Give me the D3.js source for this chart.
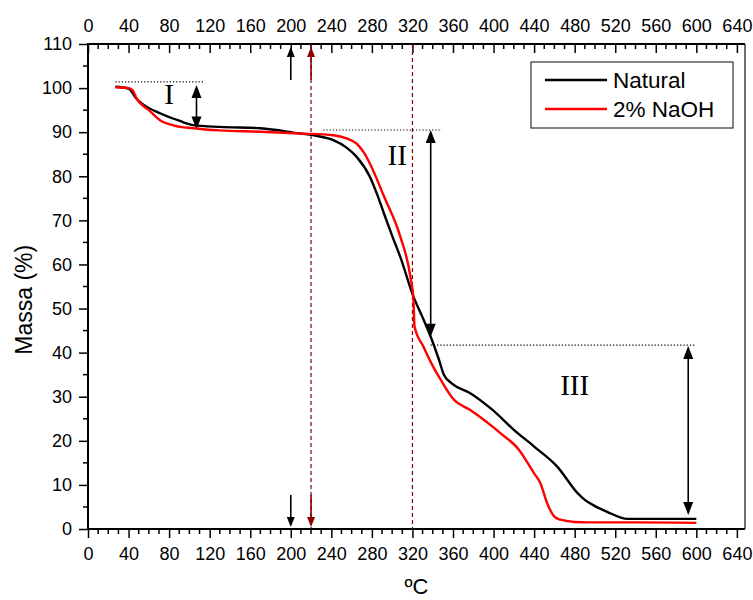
<!DOCTYPE html>
<html>
<head>
<meta charset="utf-8">
<script src="https://cdn.jsdelivr.net/npm/d3@7"></script>
<style>
  body { margin: 0; background: #fff; }
  svg { display: block; }
  text { font-family: "Liberation Sans", Arial, sans-serif; fill: #000; }
  .roman { font-family: "Liberation Serif", "Times New Roman", serif; }
</style>
</head>
<body>
<div id="chart"></div>
<script>
// TGA curves: temperature (ºC) vs mass (%)
const tempNatural = [27, 40, 43, 47, 55, 71, 90, 104, 130, 170, 209, 225, 242, 255, 265, 278, 285, 292, 300, 308, 321, 330, 338, 346, 351, 360, 377, 399, 420, 440, 463, 483, 490, 500, 512, 532, 560, 600];
const massNatural = [100.3, 99.9, 99.2, 97.8, 96.2, 94.3, 92.6, 91.6, 91.2, 90.9, 89.7, 89.2, 88.2, 86.5, 84.4, 79.9, 76, 71.5, 66.5, 61.7, 52.7, 48, 43.6, 38.5, 35, 32.8, 30.8, 27, 22.5, 18.7, 14.1, 8.1, 6.6, 5.2, 3.9, 2.3, 2.3, 2.3];

const tempNaOH = [27, 40, 44, 48, 60, 71, 85, 104, 130, 170, 209, 242, 255, 265, 272, 278, 292, 308, 318, 321, 322, 331, 340, 348, 361, 377, 407, 425, 440, 446, 453, 460, 466, 473, 480, 495, 540, 600];
const massNaOH = [100.2, 100, 99.5, 97.6, 95, 92.7, 91.5, 90.9, 90.4, 90.1, 89.7, 89.3, 88.6, 87.4, 85.4, 82.9, 75.4, 66.3, 57.2, 52, 46, 41.3, 37, 33.8, 29.3, 27, 21.7, 18, 12.6, 10.5, 5.8, 2.8, 2.1, 1.8, 1.6, 1.5, 1.5, 1.4];

const seriesNames = ["Natural", "2% NaOH"];
const seriesColors = ["#000000", "#ff0000"];

const xTicks = d3.range(0, 641, 40);
const yTicks = d3.range(0, 111, 10);

// annotations (data space)
const stageLevels = [101.4, 90.5, 41.7];          // dotted reference levels
const stageLevelX = [[27, 114], [232, 349], [338, 600]];
const stageArrowX = [107, 338, 592];
const stageArrowY = [[100.7, 90.6], [90.5, 43.6], [41.5, 3.2]];
const stageLabels = ["I", "II", "III"];
const stageLabelPos = [[80, 96.5], [305, 82.5], [480, 30.5]];
const onsetTemps = [200, 220];
const onsetColors = ["#000000", "#8b0000"];
const dashedTemps = [220, 320];

const width = 753, height = 600;
const mLeft = 88, mRight = 745, mTop = 44, mBottom = 529;

const svg = d3.select("#chart").append("svg")
    .attr("width", width)
    .attr("height", height);

const x = d3.scaleLinear().domain([0, 648]).range([mLeft, mRight]);
const y = d3.scaleLinear().domain([0, 110]).range([mBottom, mTop]);

// axes
const bottomAxis = svg.append("g")
    .attr("transform", `translate(0,${mBottom})`)
    .call(d3.axisBottom(x).tickValues(xTicks).tickSizeInner(9).tickSizeOuter(0).tickPadding(9));
const topAxis = svg.append("g")
    .attr("transform", `translate(0,${mTop})`)
    .call(d3.axisTop(x).tickValues(xTicks).tickSizeInner(-9).tickSizeOuter(0).tickPadding(12));
const leftAxis = svg.append("g")
    .attr("transform", `translate(${mLeft},0)`)
    .call(d3.axisLeft(y).tickValues(yTicks).tickSizeInner(9).tickSizeOuter(0).tickPadding(7));

[bottomAxis, topAxis, leftAxis].forEach(g => {
    g.selectAll("text").style("font-size", "18px").attr("fill", "#000")
        .style("font-family", "\"Liberation Sans\", Arial, sans-serif");
    g.selectAll("line").attr("stroke", "#000").attr("stroke-width", 1.5);
    g.select(".domain").remove();
});

// minor ticks
const xMinor = d3.range(0, 641, 10).filter(v => v % 40 !== 0);
svg.append("g").selectAll("line").data(xMinor).join("line")
    .attr("x1", d => x(d)).attr("x2", d => x(d))
    .attr("y1", mBottom).attr("y2", mBottom + 5)
    .attr("stroke", "#000").attr("stroke-width", 1.5);
svg.append("g").selectAll("line").data(xMinor).join("line")
    .attr("x1", d => x(d)).attr("x2", d => x(d))
    .attr("y1", mTop).attr("y2", mTop + 5)
    .attr("stroke", "#000").attr("stroke-width", 1.5);
const yMinor = d3.range(5, 110, 10);
svg.append("g").selectAll("line").data(yMinor).join("line")
    .attr("x1", mLeft - 5).attr("x2", mLeft)
    .attr("y1", d => y(d)).attr("y2", d => y(d))
    .attr("stroke", "#000").attr("stroke-width", 1.5);

// frame
svg.append("line").attr("x1", mLeft).attr("x2", mLeft).attr("y1", mTop - 1).attr("y2", mBottom + 1)
    .attr("stroke", "#000").attr("stroke-width", 2);
svg.append("line").attr("x1", mLeft).attr("x2", mRight).attr("y1", mBottom).attr("y2", mBottom)
    .attr("stroke", "#000").attr("stroke-width", 2);
svg.append("line").attr("x1", mLeft).attr("x2", mRight).attr("y1", mTop).attr("y2", mTop)
    .attr("stroke", "#000").attr("stroke-width", 2);
svg.append("line").attr("x1", mRight).attr("x2", mRight).attr("y1", mTop).attr("y2", mBottom)
    .attr("stroke", "#222").attr("stroke-width", 1.3);

// axis titles
svg.append("text")
    .attr("transform", `translate(32,${y(52)}) rotate(-90)`)
    .attr("text-anchor", "middle")
    .style("font-size", "23px")
    .text("Massa (%)");
svg.append("text")
    .attr("x", (mLeft + mRight) / 2)
    .attr("y", 594)
    .attr("text-anchor", "middle")
    .style("font-size", "22px")
    .text("ºC");

// vertical dashed lines
svg.append("g").selectAll("line").data(dashedTemps).join("line")
    .attr("x1", d => x(d)).attr("x2", d => x(d))
    .attr("y1", mTop).attr("y2", mBottom)
    .attr("stroke", "#8b0000").attr("stroke-width", 1.2)
    .attr("stroke-dasharray", "4,3");

// dotted level lines
svg.append("g").selectAll("line").data(stageLevels).join("line")
    .attr("x1", (d, i) => x(stageLevelX[i][0])).attr("x2", (d, i) => x(stageLevelX[i][1]))
    .attr("y1", d => y(d)).attr("y2", d => y(d))
    .attr("stroke", "#000").attr("stroke-width", 1.2)
    .attr("stroke-dasharray", "1.2,2");

function arrowHead(g, px, py, dir, color, len, w) {
    // dir: +1 pointing down, -1 pointing up
    g.append("path")
        .attr("d", `M${px},${py} L${px - w / 2},${py - dir * len} L${px + w / 2},${py - dir * len} Z`)
        .attr("fill", color);
}

function vArrow(xp, y1, y2, color, both, len, w, sw) {
    const g = svg.append("g");
    g.append("line").attr("x1", xp).attr("x2", xp)
        .attr("y1", both ? y1 + (y2 > y1 ? len * 0.6 : -len * 0.6) : y1)
        .attr("y2", y2 + (y2 > y1 ? -len * 0.6 : len * 0.6))
        .attr("stroke", color).attr("stroke-width", sw);
    arrowHead(g, xp, y2, y2 > y1 ? 1 : -1, color, len, w);
    if (both) arrowHead(g, xp, y1, y2 > y1 ? -1 : 1, color, len, w);
}

// stage double arrows
stageArrowX.forEach((t, i) => {
    vArrow(x(t), y(stageArrowY[i][0]), y(stageArrowY[i][1]), "#000", true, 13, 10, 1.6);
});

// onset arrows at top and bottom
onsetTemps.forEach((t, i) => {
    vArrow(x(t), 80, mTop + 3, onsetColors[i], false, 10, 8, 1.6);
    vArrow(x(t), mBottom - 34, mBottom - 2, onsetColors[i], false, 10, 8, 1.6);
});

// stage labels
svg.append("g").selectAll("text").data(stageLabels).join("text")
    .attr("class", "roman")
    .attr("x", (d, i) => x(stageLabelPos[i][0]))
    .attr("y", (d, i) => y(stageLabelPos[i][1]))
    .attr("text-anchor", "middle")
    .style("font-size", "29px")
    .text(d => d);

// curves
const line = d3.line()
    .x(d => x(d[0]))
    .y(d => y(d[1]))
    .curve(d3.curveMonotoneX);

const curves = [
    d3.zip(tempNatural, massNatural),
    d3.zip(tempNaOH, massNaOH)
];
svg.append("path").datum(curves[0])
    .attr("d", line).attr("fill", "none")
    .attr("stroke", seriesColors[0]).attr("stroke-width", 2.4);
svg.append("path").datum(curves[1])
    .attr("d", line).attr("fill", "none")
    .attr("stroke", seriesColors[1]).attr("stroke-width", 2.4);

// legend
const legend = svg.append("g");
legend.append("rect")
    .attr("x", 531).attr("y", 62).attr("width", 202).attr("height", 66)
    .attr("fill", "#fff").attr("stroke", "#333").attr("stroke-width", 1.2);
seriesNames.forEach((name, i) => {
    const ly = 80 + i * 29;
    legend.append("line")
        .attr("x1", 545).attr("x2", 607).attr("y1", ly).attr("y2", ly)
        .attr("stroke", seriesColors[i]).attr("stroke-width", 2.4);
    legend.append("text")
        .attr("x", 613).attr("y", ly + 8)
        .style("font-size", "22.5px")
        .text(name);
});
</script>
</body>
</html>
